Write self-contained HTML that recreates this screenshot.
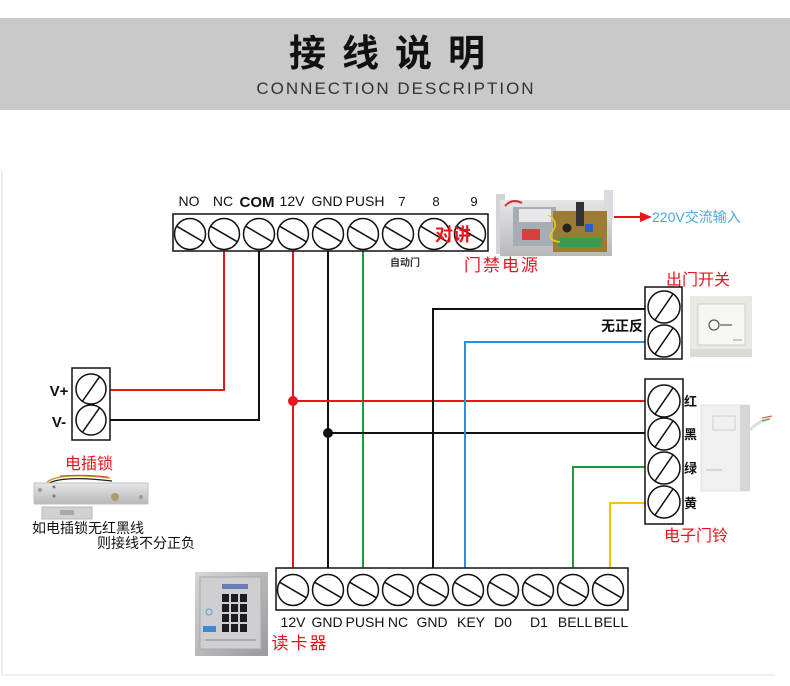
<!DOCTYPE html>
<html><head><meta charset="utf-8"><style>
html,body{margin:0;padding:0;background:#fff;}
body{width:790px;height:686px;overflow:hidden;position:relative;}
svg{position:absolute;left:0;top:0;}
text{font-family:"Liberation Sans","Noto Sans CJK SC",sans-serif;}
.cj{font-family:"Liberation Sans","Noto Sans CJK SC","WenQuanYi Zen Hei",sans-serif;}
</style></head><body>
<svg width="790" height="686" viewBox="0 0 790 686" xmlns="http://www.w3.org/2000/svg">
<defs>
<linearGradient id="gm" x1="0" y1="0" x2="0" y2="1"><stop offset="0" stop-color="#e6e6e8"/><stop offset="1" stop-color="#b8b8bc"/></linearGradient>
<linearGradient id="gk" x1="0" y1="0" x2="1" y2="1"><stop offset="0" stop-color="#d6d6d8"/><stop offset="1" stop-color="#9a9a9e"/></linearGradient>
</defs>
<!-- header -->
<rect x="0" y="18" width="790" height="92" fill="#c9c9c9"/>
<text x="395" y="66" text-anchor="middle" class="cj" font-size="37" font-weight="bold" letter-spacing="16" fill="#111">接线说明</text>
<text x="396" y="94" text-anchor="middle" font-size="17" letter-spacing="2" fill="#333">CONNECTION DESCRIPTION</text>

<!-- faint frame -->
<path d="M2 170 V675 H775" fill="none" stroke="#e8e8e8" stroke-width="1.5"/>

<!-- top terminal labels -->
<g font-size="14" fill="#111" text-anchor="middle">
<text x="189" y="206">NO</text>
<text x="223" y="206">NC</text>
<text x="257" y="207" font-weight="bold" font-family="'Liberation Sans Narrow','Liberation Sans',sans-serif" font-size="15">COM</text>
<text x="292" y="206">12V</text>
<text x="327" y="206">GND</text>
<text x="365" y="206">PUSH</text>
<text x="402" y="206" font-size="13">7</text>
<text x="436" y="206" font-size="13">8</text>
<text x="474" y="206" font-size="13">9</text>
</g>

<!-- wires -->
<g fill="none" stroke-width="2">
<path d="M224 251 V390 H106" stroke="#e8141c"/>
<path d="M259 251 V420 H106" stroke="#111"/>
<path d="M293 251 V568" stroke="#e8141c"/>
<path d="M328 251 V568" stroke="#111"/>
<path d="M363 251 V568" stroke="#1a9a3a"/>
<path d="M293 401 H650" stroke="#e8141c"/>
<path d="M328 433 H650" stroke="#111"/>
<path d="M433 568 V309 H650" stroke="#111"/>
<path d="M465 568 V342 H650" stroke="#2a90dc"/>
<path d="M573 568 V467 H650" stroke="#1a9a3a"/>
<path d="M610 568 V503 H650" stroke="#f5c000"/>
</g>
<circle cx="293" cy="401" r="5" fill="#e8141c"/>
<circle cx="328" cy="433" r="5" fill="#111"/>

<!-- top terminal block -->
<rect x="173" y="214" width="315" height="37" fill="#fff" stroke="#111" stroke-width="1.5"/>
<g fill="#fff" stroke="#111" stroke-width="1.5">
<circle cx="190" cy="234" r="15.5"/><line x1="176.6" y1="226.2" x2="203.4" y2="241.8"/>
<circle cx="224" cy="234" r="15.5"/><line x1="210.6" y1="226.2" x2="237.4" y2="241.8"/>
<circle cx="259" cy="234" r="15.5"/><line x1="245.6" y1="226.2" x2="272.4" y2="241.8"/>
<circle cx="293" cy="234" r="15.5"/><line x1="279.6" y1="226.2" x2="306.4" y2="241.8"/>
<circle cx="328" cy="234" r="15.5"/><line x1="314.6" y1="226.2" x2="341.4" y2="241.8"/>
<circle cx="363" cy="234" r="15.5"/><line x1="349.6" y1="226.2" x2="376.4" y2="241.8"/>
<circle cx="398" cy="234" r="15.5"/><line x1="384.6" y1="226.2" x2="411.4" y2="241.8"/>
<circle cx="434" cy="234" r="15.5"/><line x1="420.6" y1="226.2" x2="447.4" y2="241.8"/>
<circle cx="470" cy="234" r="15.5"/><line x1="456.6" y1="226.2" x2="483.4" y2="241.8"/>
</g>
<text x="405" y="266" text-anchor="middle" class="cj" font-size="10" font-weight="bold" fill="#333">自动门</text>
<text x="453" y="241" text-anchor="middle" class="cj" font-size="18" font-weight="bold" fill="#e8141c">对讲</text>
<text x="502" y="271" text-anchor="middle" class="cj" font-size="17" letter-spacing="2" fill="#e8141c">门禁电源</text>

<!-- power supply -->
<g>
<rect x="496" y="194" width="9" height="60" fill="#d4d4d8"/>
<rect x="500" y="200" width="112" height="56" fill="url(#gm)"/>
<rect x="604" y="190" width="9" height="30" fill="#dcdce0"/>
<path d="M505 206 Q512 198 522 203" stroke="#d83030" stroke-width="2" fill="none"/>
<rect x="513" y="207" width="43" height="39" fill="#a8acb4"/>
<rect x="519" y="209" width="32" height="13" fill="#e8e8ea"/>
<rect x="522" y="229" width="18" height="11" fill="#d84040"/>
<rect x="553" y="211" width="54" height="41" fill="#9c7c34"/>
<rect x="576" y="202" width="8" height="24" fill="#333"/>
<circle cx="567" cy="228" r="4.5" fill="#222"/>
<rect x="585" y="224" width="8" height="8" fill="#2a60c0"/>
<rect x="558" y="238" width="44" height="9" fill="#3a9a50"/>
<path d="M548 215 Q560 222 552 232 Q546 240 560 242" stroke="#e8d020" stroke-width="1.5" fill="none"/>
</g>
<line x1="614" y1="217" x2="642" y2="217" stroke="#e8141c" stroke-width="2"/>
<polygon points="640,212 652,217 640,222" fill="#e8141c"/>
<text x="652" y="222" class="cj" font-size="14" fill="#4aa8dc" font-family="'Liberation Serif','Noto Serif CJK SC',serif">220V交流输入</text>

<!-- exit button block -->
<text x="698" y="285" text-anchor="middle" class="cj" font-size="16" fill="#e8141c">出门开关</text>
<rect x="645" y="287" width="37" height="72" fill="#fff" stroke="#111" stroke-width="1.5"/>
<g fill="#fff" stroke="#111" stroke-width="1.5">
<circle cx="664" cy="307" r="16"/><line x1="655" y1="320.1" x2="673" y2="293.9"/>
<circle cx="664" cy="341" r="16"/><line x1="655" y1="354.1" x2="673" y2="327.9"/>
</g>
<text x="622" y="331" text-anchor="middle" class="cj" font-size="14" font-weight="bold" fill="#111">无正反</text>
<!-- exit button image -->
<rect x="690" y="296" width="62" height="61" fill="#eae8e2"/>
<rect x="690" y="349" width="62" height="8" fill="#dcdad4"/>
<rect x="698" y="304" width="47" height="41" fill="#f6f6f4" stroke="#cfcfcb"/>
<circle cx="714" cy="325" r="5" fill="none" stroke="#555" stroke-width="1.2"/>
<line x1="720" y1="325" x2="732" y2="325" stroke="#777" stroke-width="1.5"/>
<line x1="733" y1="340" x2="742" y2="340" stroke="#999" stroke-width="1"/>

<!-- doorbell block -->
<rect x="645" y="379" width="38" height="145" fill="#fff" stroke="#111" stroke-width="1.5"/>
<g fill="#fff" stroke="#111" stroke-width="1.5">
<circle cx="664" cy="401" r="16"/><line x1="655" y1="414.1" x2="673" y2="387.9"/>
<circle cx="664" cy="434" r="16"/><line x1="655" y1="447.1" x2="673" y2="420.9"/>
<circle cx="664" cy="468" r="16"/><line x1="655" y1="481.1" x2="673" y2="454.9"/>
<circle cx="664" cy="502" r="16"/><line x1="655" y1="515.1" x2="673" y2="488.9"/>
</g>
<g class="cj" font-size="13" font-weight="bold" fill="#111">
<text x="684" y="406">红</text>
<text x="684" y="439">黑</text>
<text x="684" y="473">绿</text>
<text x="684" y="508">黄</text>
</g>
<text x="696" y="541" text-anchor="middle" class="cj" font-size="16" fill="#e8141c">电子门铃</text>
<!-- doorbell image -->
<rect x="701" y="405" width="48" height="86" fill="#f0f0f0" stroke="#e0e0e0"/>
<rect x="740" y="405" width="10" height="86" fill="#d8d6d4"/>
<rect x="713" y="416" width="22" height="14" fill="none" stroke="#d0d0d0"/>
<line x1="706" y1="470" x2="722" y2="470" stroke="#bbb" stroke-width="1"/>
<path d="M750 430 Q757 422 770 418" stroke="#ddd" stroke-width="3" fill="none"/>
<line x1="762" y1="418" x2="772" y2="416" stroke="#e04040" stroke-width="1"/>
<line x1="762" y1="421" x2="770" y2="419" stroke="#40a040" stroke-width="1"/>

<!-- lock block -->
<rect x="72" y="368" width="38" height="72" fill="#fff" stroke="#111" stroke-width="1.5"/>
<g fill="#fff" stroke="#111" stroke-width="1.5">
<circle cx="91" cy="389" r="15"/><line x1="82.4" y1="401.3" x2="99.6" y2="376.7"/>
<circle cx="91" cy="420" r="15"/><line x1="82.4" y1="432.3" x2="99.6" y2="407.7"/>
</g>
<text x="59" y="396" text-anchor="middle" font-size="15" font-weight="bold" fill="#111">V+</text>
<text x="59" y="427" text-anchor="middle" font-size="15" font-weight="bold" fill="#111">V-</text>
<text x="89" y="469" text-anchor="middle" class="cj" font-size="16" fill="#e8141c">电插锁</text>
<!-- lock image -->
<path d="M47 482 Q60 472 110 478" stroke="#c8a020" stroke-width="1.5" fill="none"/>
<path d="M47 484 Q62 475 112 481" stroke="#222" stroke-width="1.2" fill="none"/>
<path d="M60 476 Q85 474 108 477" stroke="#e04040" stroke-width="1" fill="none"/>
<rect x="34" y="483" width="114" height="21" fill="url(#gm)" stroke="#c0c0c0"/>
<circle cx="40" cy="490" r="2" fill="#999"/>
<circle cx="141" cy="497" r="2" fill="#999"/>
<circle cx="54" cy="487" r="1.5" fill="#777"/>
<circle cx="54" cy="496" r="1.5" fill="#777"/>
<circle cx="115" cy="497" r="4" fill="#b09a70"/>
<rect x="42" y="507" width="50" height="12" fill="#d2d2d2" stroke="#b8b8b8"/>
<rect x="60" y="510" width="14" height="5" fill="#a8a8a8"/>
<text x="88" y="533" text-anchor="middle" class="cj" font-size="14" fill="#111">如电插锁无红黑线</text>
<text x="146" y="548" text-anchor="middle" class="cj" font-size="14" fill="#111">则接线不分正负</text>

<!-- bottom terminal block -->
<rect x="276" y="568" width="352" height="42" fill="#fff" stroke="#111" stroke-width="1.5"/>
<g fill="#fff" stroke="#111" stroke-width="1.5">
<circle cx="293" cy="590" r="15.5"/><line x1="279.6" y1="582.2" x2="306.4" y2="597.8"/>
<circle cx="328" cy="590" r="15.5"/><line x1="314.6" y1="582.2" x2="341.4" y2="597.8"/>
<circle cx="363" cy="590" r="15.5"/><line x1="349.6" y1="582.2" x2="376.4" y2="597.8"/>
<circle cx="398" cy="590" r="15.5"/><line x1="384.6" y1="582.2" x2="411.4" y2="597.8"/>
<circle cx="433" cy="590" r="15.5"/><line x1="419.6" y1="582.2" x2="446.4" y2="597.8"/>
<circle cx="468" cy="590" r="15.5"/><line x1="454.6" y1="582.2" x2="481.4" y2="597.8"/>
<circle cx="503" cy="590" r="15.5"/><line x1="489.6" y1="582.2" x2="516.4" y2="597.8"/>
<circle cx="538" cy="590" r="15.5"/><line x1="524.6" y1="582.2" x2="551.4" y2="597.8"/>
<circle cx="573" cy="590" r="15.5"/><line x1="559.6" y1="582.2" x2="586.4" y2="597.8"/>
<circle cx="608" cy="590" r="15.5"/><line x1="594.6" y1="582.2" x2="621.4" y2="597.8"/>
</g>
<g font-size="14" fill="#111" text-anchor="middle">
<text x="293" y="627">12V</text>
<text x="327" y="627">GND</text>
<text x="365" y="627">PUSH</text>
<text x="398" y="627">NC</text>
<text x="432" y="627">GND</text>
<text x="471" y="627">KEY</text>
<text x="503" y="627">D0</text>
<text x="539" y="627">D1</text>
<text x="575" y="627">BELL</text>
<text x="611" y="627">BELL</text>
</g>
<text x="300" y="649" text-anchor="middle" class="cj" font-size="17" letter-spacing="2" fill="#e8141c">读卡器</text>

<!-- keypad image -->
<rect x="195" y="572" width="73" height="84" fill="url(#gk)"/>
<rect x="200" y="577" width="61" height="72" fill="#cfcfd2" stroke="#a8a8ac"/>
<rect x="222" y="584" width="26" height="5" fill="#3a5aa8" opacity="0.7"/>
<g fill="#1c1c20">
<rect x="222" y="594" width="7" height="8"/><rect x="231" y="594" width="7" height="8"/><rect x="240" y="594" width="7" height="8"/>
<rect x="222" y="604" width="7" height="8"/><rect x="231" y="604" width="7" height="8"/><rect x="240" y="604" width="7" height="8"/>
<rect x="222" y="614" width="7" height="8"/><rect x="231" y="614" width="7" height="8"/><rect x="240" y="614" width="7" height="8"/>
<rect x="222" y="624" width="7" height="8"/><rect x="231" y="624" width="7" height="8"/><rect x="240" y="624" width="7" height="8"/>
</g>
<rect x="203" y="626" width="13" height="6" fill="#3a8ad8"/>
<circle cx="209" cy="612" r="3" fill="none" stroke="#4aa0d0" stroke-width="1"/>
<line x1="205" y1="640" x2="256" y2="640" stroke="#888" stroke-width="1"/>
</svg>
</body></html>
